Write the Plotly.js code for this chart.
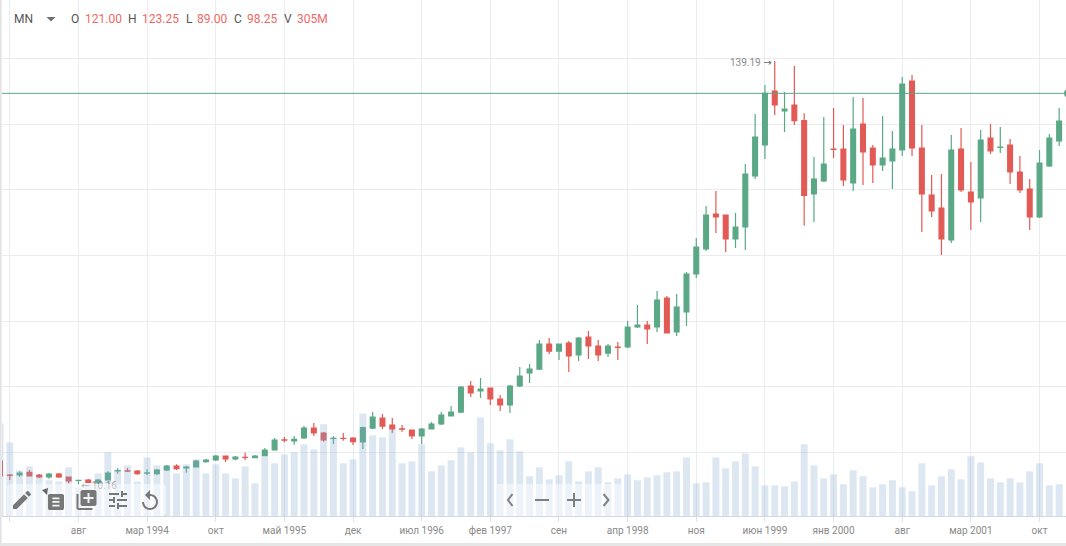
<!DOCTYPE html>
<html>
<head>
<meta charset="utf-8">
<script src="https://cdn.plot.ly/plotly-3.0.1.min.js"></script>
<style>
html,body{margin:0;padding:0;background:#fff;width:1066px;height:546px;overflow:hidden}
#chart{position:absolute;left:0;top:0;width:1066px;height:546px}
#ui{position:absolute;left:0;top:0;width:1066px;height:546px;pointer-events:none}
#edgeL{position:absolute;left:0;top:0;width:2px;height:546px;background:linear-gradient(90deg,#dcdcdc,#f4f4f4)}
#edgeB{position:absolute;left:0;top:543px;width:1066px;height:3px;background:#e6e6e6}
</style>
</head>
<body>
<div id="chart"></div>
<svg id="ui" viewBox="0 0 1066 546" xmlns="http://www.w3.org/2000/svg">
  <rect x="7" y="484" width="159" height="32" rx="4" fill="#fff" fill-opacity="0.5"/>
  <rect x="497" y="484" width="124" height="32" fill="#fff" fill-opacity="0.5"/>
  <g fill="#777">
    <path d="M47 495 L48 488 L42 490 Z" fill="#666"/>
    <path transform="translate(10,488)" d="M3 17.25V21h3.75L17.81 9.94l-3.75-3.75L3 17.25zM20.71 7.04c.39-.39.39-1.02 0-1.41l-2.34-2.34c-.39-.39-1.02-.39-1.41 0l-1.83 1.83 3.75 3.75 1.83-1.83z"/>
    <path transform="translate(45.3,491.3) scale(.89)" d="M19 3H5c-1.1 0-2 .9-2 2v14c0 1.1.9 2 2 2h14c1.1 0 2-.9 2-2V5c0-1.1-.9-2-2-2zm-3 14H8v-2h8v2zm0-4H8v-2h8v2zm0-4H8V7h8v2z"/>
    <path transform="translate(74.5,488)" d="M4 6H2v14c0 1.1.9 2 2 2h14v-2H4V6zm16-4H8c-1.1 0-2 .9-2 2v12c0 1.1.9 2 2 2h12c1.1 0 2-.9 2-2V4c0-1.1-.9-2-2-2zm-1 9h-4v4h-2v-4H9V9h4V5h2v4h4v2z"/>
    <path transform="translate(106,488)" d="M3 17v2h6v-2H3zM3 5v2h10V5H3zm10 16v-2h8v-2h-8v-2h-2v6h2zM7 9v2H3v2h4v2h2V9H7zm14 4v-2H11v2h10zm-6-4h2V7h4V5h-4V3h-2v6z"/>
    <path transform="translate(138,489)" d="M12 5V1L7 6l5 5V7c3.31 0 6 2.69 6 6s-2.69 6-6 6-6-2.69-6-6H4c0 4.42 3.58 8 8 8s8-3.58 8-8-3.58-8-8-8z"/>
  </g>
  <g fill="none" stroke="#808080" stroke-width="2">
    <path d="M512.5 494 L508 500 L512.5 506"/>
    <path d="M535 500 H549"/>
    <path d="M567 500 H581 M574 493 V507"/>
    <path d="M603.5 494 L608.5 500 L603.5 506"/>
  </g>
  <path d="M46.5 17 H55.5 L51 21.5 Z" fill="#6f6f6f"/>
  <circle cx="1068" cy="93.3" r="4" fill="#5aa587"/>
</svg>
<div id="edgeL"></div>
<div id="edgeB"></div>
<script>
var opens  = [17.41,13.10,13.15,13.96,13.15,12.54,13.45,12.54,11.50,11.63,10.82,11.63,14.42,14.40,14.37,13.74,13.56,14.67,15.89,15.28,15.58,17.21,17.72,18.93,18.02,18.56,18.43,19.03,20.76,23.83,23.50,24.41,27.46,25.93,24.28,24.34,24.41,
 23.19,27.45,30.50,28.37,27.20,26.84,25.02,27.15,28.67,31.11,32.32,40.24,38.72,39.63,36.28,34.46,40.24,44.20,45.41,53.02,50.89,53.33,49.68,55.15,52.42,50.28,52.05,52.11,
 58.20,58.81,58.20,67.03,56.68,62.77,74.34,81.95,92.61,92.30,85.00,88.65,104.17,113.61,130.05,123.96,125.79,121.00,98.69,102.65,112.35,112.39,102.04,120.00,112.70,107.52,108.74,112.09,133.09,112.70,98.39,94.43,84.69,112.39,99.30,97.48,115.74,112.85,113.61,105.39,100.22,91.69,107.22,114.83];
var highs  = [17.41,13.45,14.27,14.67,13.45,13.76,13.76,12.54,11.63,11.93,11.93,14.27,15.18,15.28,14.67,14.87,14.98,16.19,16.40,15.89,17.72,18.02,19.24,18.93,18.93,19.95,19.24,21.37,24.41,24.72,25.02,28.07,28.98,26.24,25.02,25.93,24.62,
 27.86,32.32,31.72,30.50,28.37,26.84,27.45,29.28,32.32,34.15,40.24,41.76,42.67,39.63,37.50,40.54,46.02,46.94,54.24,54.85,53.02,53.94,55.15,56.98,54.24,53.02,53.63,60.03,
 64.90,60.03,69.16,67.64,68.25,74.94,85.29,95.04,99.61,92.30,92.91,107.83,123.05,131.88,139.19,129.74,137.66,123.25,109.96,122.13,124.87,119.70,128.22,127.92,113.61,122.44,117.87,134.31,134.92,119.70,104.48,104.78,116.66,118.79,108.44,118.18,120.00,119.09,115.44,110.26,103.26,112.09,116.96,124.87];
var lows   = [12.84,11.63,12.64,12.84,12.24,12.03,12.24,10.61,10.16,10.61,10.41,11.63,13.56,14.06,13.25,13.15,13.15,14.37,14.67,13.86,15.58,16.90,17.41,17.11,17.61,17.72,18.32,18.93,20.76,23.09,22.38,24.11,25.02,23.30,22.59,23.60,22.28,
 21.06,27.15,27.15,25.93,26.34,24.10,22.58,27.15,28.37,31.11,32.02,36.89,36.59,34.46,32.63,32.02,39.93,41.15,45.11,49.98,48.15,44.50,47.85,48.46,47.85,49.07,48.15,51.81,
 57.90,53.03,56.68,56.38,55.46,58.51,73.12,81.34,86.82,81.04,82.26,81.65,103.26,109.35,122.74,117.57,119.70,89.00,90.17,102.35,109.65,101.13,99.61,101.43,102.04,105.70,100.22,110.26,110.26,87.13,91.69,80.13,83.78,99.30,87.74,90.17,110.87,111.18,101.74,99.00,87.74,91.39,106.91,113.31];
var closes = [12.84,13.00,13.76,12.84,12.54,13.45,12.54,11.32,11.56,10.92,11.63,13.76,14.50,14.34,13.56,13.78,14.67,15.89,15.08,15.58,17.41,17.72,18.93,18.02,18.63,18.50,18.93,20.76,23.80,23.77,24.01,27.46,25.93,23.80,24.34,24.28,23.30,
 27.55,30.80,28.06,27.15,27.10,25.02,27.15,28.67,31.41,32.32,39.93,38.11,39.33,36.28,34.46,40.24,43.28,45.41,53.02,50.89,53.02,49.37,54.85,52.42,49.68,52.42,51.97,58.20,
 58.81,57.59,66.42,56.38,64.29,74.34,82.55,92.30,91.69,85.00,88.65,104.78,116.05,129.34,125.79,124.57,121.00,98.25,103.26,107.83,112.25,102.96,118.48,111.48,107.52,109.65,112.39,132.18,112.70,98.69,93.52,85.00,112.09,99.91,96.26,115.13,111.78,112.95,105.39,99.91,91.69,108.13,115.74,120.92];
var volumes = [394,313,194,211,169,152,147,207,120,137,181,271,198,215,147,249,215,207,181,220,241,181,220,181,160,211,139,254,224,262,271,305,283,390,334,224,241,
 436,343,334,368,224,232,305,190,215,237,292,271,419,309,279,326,275,169,207,156,173,232,147,190,207,143,160,177,
 152,164,173,186,190,249,139,143,249,203,232,266,211,130,130,126,147,305,215,160,177,135,194,169,122,135,152,122,105,224,130,169,198,156,254,228,160,143,160,143,190,224,130,135];
var tickIndex  = [1,8,15,22,29,36,43,50,57,64,71,78,85,92,99,106];
var tickLabels = ['','авг','мар 1994','окт','май 1995','дек','июл 1996','фев 1997','сен','апр 1998','ноя','июн 1999','янв 2000','авг','мар 2001','окт'];
var gridPrices = [20,40,60,80,100,120,140];
var lastPrice = 129.34, highIndex = 79, lowIndex = 8, hoverIndex = 82;
var instrument = 'MN';

var xs = opens.map(function(_, i){ return i; });
var up = '#5aa886', down = '#e25a55';
var GREY = '#555', RED = '#ec6a66';

var candles = {
  type:'candlestick', x:xs, open:opens, high:highs, low:lows, close:closes,
  xaxis:'x', yaxis:'y', whiskerwidth:0, hoverinfo:'skip', showlegend:false,
  increasing:{line:{color:up,width:1.2},fillcolor:up},
  decreasing:{line:{color:down,width:1.2},fillcolor:down}
};
var vols = {
  type:'bar', x:xs, y:volumes, xaxis:'x', yaxis:'y2', width:0.71,
  marker:{color:'rgba(130,168,208,0.28)',line:{width:0}}, hoverinfo:'skip', showlegend:false
};

function hdr(px, text, color){
  return {xref:'paper', yref:'paper', x:px/1066, y:1-19/516, xanchor:'left', yanchor:'middle', showarrow:false,
    text:text, borderpad:0, font:{family:'Roboto, sans-serif', size:12, color:color}};
}
var ARROW = 'font-family:DejaVu Sans;color:#666';
var h = hoverIndex;
var annotations = [
  hdr(13, instrument, GREY),
  hdr(70, 'O', GREY), hdr(83.5, opens[h].toFixed(2), RED),
  hdr(127, 'H', GREY), hdr(140.5, highs[h].toFixed(2), RED),
  hdr(185, 'L', GREY), hdr(195.5, lows[h].toFixed(2), RED),
  hdr(233, 'C', GREY), hdr(245.5, closes[h].toFixed(2), RED),
  hdr(283, 'V', GREY), hdr(295.5, volumes[h] + 'M', RED),
  {xref:'x', yref:'y', x:highIndex, y:highs[highIndex], xanchor:'right', yanchor:'middle', xshift:-1, yshift:-2, showarrow:false,
   text:'<span style="color:#8a8a8a">'+highs[highIndex].toFixed(2)+'</span> <span style="'+ARROW+'">→</span>', font:{family:'Roboto, sans-serif', size:10, color:'#666'}},
  {xref:'x', yref:'y', x:lowIndex, y:lows[lowIndex], xanchor:'left', yanchor:'middle', xshift:1, yshift:-1, showarrow:false,
   text:'<span style="'+ARROW+'">←</span> '+lows[lowIndex].toFixed(2), font:{family:'Roboto, sans-serif', size:10, color:'#8a8a8a'}}
];

var layout = {
  width:1066, height:546, margin:{l:0,r:0,t:0,b:30}, paper_bgcolor:'#fff', plot_bgcolor:'#fff',
  showlegend:false, boxgap:0.30, hovermode:false, dragmode:false,
  xaxis:{type:'linear', range:[0,108.7], rangeslider:{visible:false}, tickmode:'array', tickvals:tickIndex, ticktext:tickLabels,
    showgrid:true, gridcolor:'#eaecf0', gridwidth:1, zeroline:false, showline:true, linecolor:'#cfd8e2', linewidth:1,
    ticks:'outside', ticklen:5, tickcolor:'#e2e2e2', tickwidth:1, tickangle:0,
    tickfont:{family:'Roboto, sans-serif', size:10, color:'#8a8a8a'}},
  yaxis:{range:[0.67,157.75], tickmode:'array', tickvals:gridPrices, showticklabels:false, showgrid:true,
    gridcolor:'#eaecf0', gridwidth:1, zeroline:false, showline:false, ticks:''},
  yaxis2:{overlaying:'y', range:[0,2193], visible:false, showgrid:false, zeroline:false, fixedrange:true},
  shapes:[{type:'line', xref:'paper', x0:0, x1:1, yref:'y', y0:lastPrice, y1:lastPrice, line:{color:'#5aa587',width:1}, layer:'above'}],
  annotations:annotations
};
Plotly.newPlot('chart',[candles,vols],layout,{displayModeBar:false,staticPlot:true});
</script>
</body>
</html>
